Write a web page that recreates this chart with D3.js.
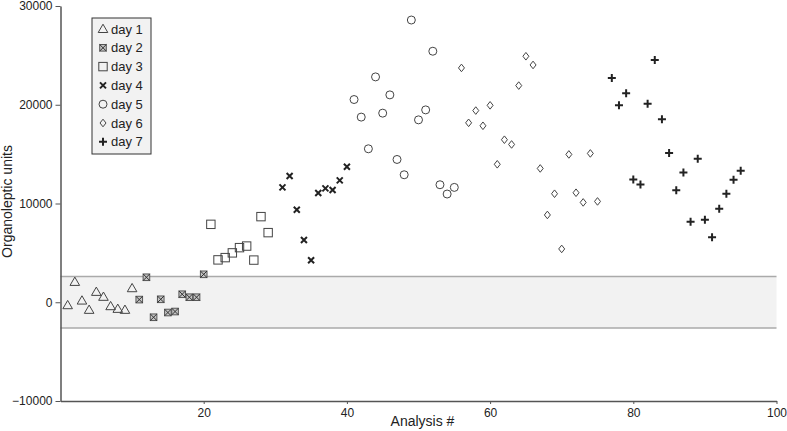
<!DOCTYPE html>
<html>
<head>
<meta charset="utf-8">
<script src="https://cdn.jsdelivr.net/npm/d3@7"></script>
<style>
  body { margin: 0; background: #fff; }
  svg { font-family: "Liberation Sans", Arial, sans-serif; }
</style>
</head>
<body>
<div id="chart"></div>
<script>
var dayNames = ["day 1", "day 2", "day 3", "day 4", "day 5", "day 6", "day 7"];

// analysis # where each day starts (consecutive numbering inside a day)
var dayStart = [1, 11, 21, 31, 41, 56, 77];

var day1 = [-300, 2060, 170, -770, 1050, 550, -400, -670, -770, 1420];
var day2 = [270, 2530, -1520, 300, -1040, -940, 810, 510, 510, 2830];
var day3 = [7890, 4290, 4520, 5000, 5530, 5690, 4270, 8670, 7050];
var day4 = [11630, 12780, 9370, 6310, 4250, 11060, 11530, 11370, 12340, 13720];
var day5 = [20530, 18750, 15540, 22820, 19150, 21000, 14460, 12910, 28580, 18470,
            19480, 25420, 11900, 10960, 11630];
var day6 = [23730, 18170, 19410, 17870, 19940, 13970, 16460, 15980, 21940, 24910,
            24030, 13550, 8840, 10990, 5400, 14970, 11090, 10110, 15070, 10210];
var day7 = [22720, 19960, 21170, 12440, 11930, 20090, 24540, 18540, 15110, 11330,
            13150, 8160, 14530, 8360, 6570, 9470, 10990, 12410, 13320];

var bandLimits = [-2600, 2600];
var xTicks = [20, 40, 60, 80, 100];
var yTicks = [-10000, 0, 10000, 20000, 30000];

var series = [day1, day2, day3, day4, day5, day6, day7];

var width = 787, height = 431;
var margin = {top: 6, right: 10.5, bottom: 30, left: 60.5};

var svg = d3.select("#chart").append("svg")
  .attr("width", width)
  .attr("height", height);

var x = d3.scaleLinear().domain([0, 100]).range([margin.left, width - margin.right]);
var y = d3.scaleLinear().domain([-10000, 30000]).range([height - margin.bottom, margin.top]);

// shaded band
svg.append("rect")
  .attr("x", x(0))
  .attr("y", y(bandLimits[1]))
  .attr("width", x(100) - x(0))
  .attr("height", y(bandLimits[0]) - y(bandLimits[1]))
  .attr("fill", "#f2f2f2");

svg.selectAll("line.band")
  .data(bandLimits)
  .enter().append("line")
  .attr("class", "band")
  .attr("x1", x(0)).attr("x2", x(100))
  .attr("y1", function (d) { return y(d); })
  .attr("y2", function (d) { return y(d); })
  .attr("stroke", "#aaa")
  .attr("stroke-width", 1.5);

// axes
var xAxis = svg.append("g")
  .attr("transform", "translate(0," + y(-10000) + ")")
  .call(d3.axisBottom(x).tickValues(xTicks).tickSize(3).tickSizeOuter(0).tickPadding(4));

var yAxis = svg.append("g")
  .attr("transform", "translate(" + x(0) + ",0)")
  .call(d3.axisLeft(y).tickValues(yTicks).tickSize(5).tickSizeOuter(0).tickPadding(3)
    .tickFormat(d3.format("d")));

[xAxis, yAxis].forEach(function (g) {
  g.select(".domain").attr("stroke", "#555").attr("stroke-width", 1.5);
  g.selectAll(".tick line").attr("stroke", "#555");
  g.selectAll(".tick text").attr("fill", "#222").style("font-size", "12px");
});

svg.append("text")
  .attr("x", 422.5)
  .attr("y", 426)
  .attr("text-anchor", "middle")
  .attr("fill", "#222")
  .style("font-size", "14px")
  .text("Analysis #");

svg.append("text")
  .attr("transform", "translate(12," + (y(10000) - 2) + ") rotate(-90)")
  .attr("text-anchor", "middle")
  .attr("fill", "#222")
  .style("font-size", "14px")
  .text("Organoleptic units");

// marker drawing, one per day
var markers = [
  function (g) { // open triangle
    g.append("path").attr("d", "M0,-4.8L4.8,3.5L-4.8,3.5Z")
      .attr("fill", "none").attr("stroke", "#444").attr("stroke-width", 1);
  },
  function (g) { // crossed square
    g.append("rect").attr("x", -3.3).attr("y", -3.3).attr("width", 6.6).attr("height", 6.6)
      .attr("fill", "#c4c4c4").attr("stroke", "#555").attr("stroke-width", 1);
    g.append("path").attr("d", "M-3.3,-3.3L3.3,3.3M3.3,-3.3L-3.3,3.3")
      .attr("stroke", "#333").attr("stroke-width", 1);
  },
  function (g) { // open square
    g.append("rect").attr("x", -4.2).attr("y", -4.2).attr("width", 8.4).attr("height", 8.4)
      .attr("fill", "none").attr("stroke", "#444").attr("stroke-width", 1);
  },
  function (g) { // x mark
    g.append("path").attr("d", "M-3,-3L3,3M3,-3L-3,3")
      .attr("stroke", "#222").attr("stroke-width", 2);
  },
  function (g) { // open circle
    g.append("circle").attr("r", 4)
      .attr("fill", "none").attr("stroke", "#444").attr("stroke-width", 1);
  },
  function (g) { // open diamond
    g.append("path").attr("d", "M0,-3.8L3,0L0,3.8L-3,0Z")
      .attr("fill", "none").attr("stroke", "#444").attr("stroke-width", 1);
  },
  function (g) { // plus
    g.append("path").attr("d", "M-4,0L4,0M0,-4L0,4")
      .attr("stroke", "#222").attr("stroke-width", 2);
  }
];

series.forEach(function (vals, i) {
  var pts = vals.map(function (v, j) { return {n: dayStart[i] + j, v: v}; });
  svg.append("g").attr("class", "day" + (i + 1))
    .selectAll("g")
    .data(pts)
    .enter().append("g")
    .attr("transform", function (d) { return "translate(" + x(d.n) + "," + y(d.v) + ")"; })
    .each(function () { markers[i](d3.select(this)); });
});

// legend
var legend = svg.append("g").attr("transform", "translate(92,18)");
legend.append("rect")
  .attr("width", 59).attr("height", 136)
  .attr("fill", "#f2f2f2")
  .attr("stroke", "#333").attr("stroke-width", 1);

var items = legend.selectAll("g.item")
  .data(dayNames)
  .enter().append("g")
  .attr("class", "item")
  .attr("transform", function (d, i) { return "translate(0," + (11 + i * 18.8) + ")"; });

items.append("g")
  .attr("transform", "translate(11,0)")
  .each(function (d, i) { markers[i](d3.select(this)); });

items.append("text")
  .attr("x", 19)
  .attr("y", 4.5)
  .attr("fill", "#222")
  .style("font-size", "13px")
  .text(function (d) { return d; });
</script>
</body>
</html>
